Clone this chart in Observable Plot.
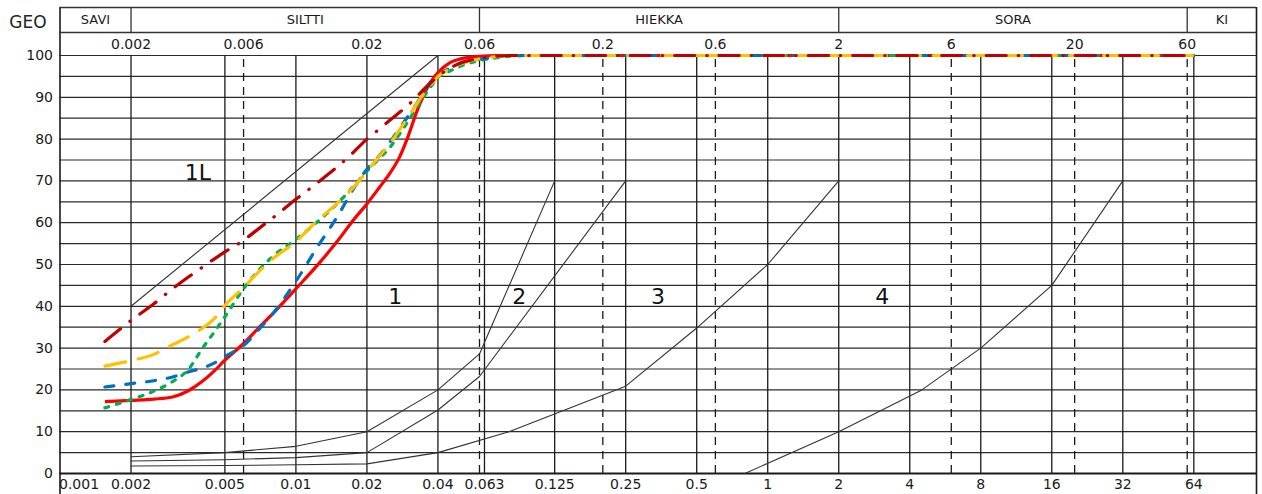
<!DOCTYPE html>
<html>
<head>
<meta charset="utf-8">
<script src="https://cdn.jsdelivr.net/npm/d3@7"></script>
<script src="https://cdn.jsdelivr.net/npm/@observablehq/plot@0.6"></script>
<style>
  html, body { margin: 0; padding: 0; background: #fff; }
  #chart svg { display: block; overflow: visible; }
</style>
</head>
<body>
<div id="chart"></div>
<script>
// ---------------- data ----------------
const xMin = 0.001, xMax = 118;
const yTicks = [0, 10, 20, 30, 40, 50, 60, 70, 80, 90, 100];
const gridY = [0, 5, 10, 15, 20, 25, 30, 35, 40, 45, 50, 55, 60, 65, 70, 75, 80, 85, 90, 95, 100];
const solidX = [0.002, 0.005, 0.01, 0.02, 0.04, 0.063, 0.125, 0.25, 0.5, 1, 2, 4, 8, 16, 32, 64];
const dashedX = [0.006, 0.06, 0.2, 0.6, 6, 20, 60];
const bottomLabels = ["0.001", "0.002", "0.005", "0.01", "0.02", "0.04", "0.063", "0.125", "0.25", "0.5", "1", "2", "4", "8", "16", "32", "64"];
const topLabels = ["0.002", "0.006", "0.02", "0.06", "0.2", "0.6", "2", "6", "20", "60"];
const bands = ["SAVI", "SILTTI", "HIEKKA", "SORA", "KI"];
const bandEdges = [0.001, 0.002, 0.06, 2, 60, 118];

// zone boundary lines (size mm, passing %)
const line1L_x = [0.002, 0.04];
const line1L_y = [40, 100];
const lineA_x = [0.002, 0.005, 0.01, 0.02, 0.04, 0.06, 0.125];
const lineA_y = [4, 5, 6.5, 10, 20, 28.6, 70];
const lineB_x = [0.002, 0.005, 0.01, 0.02, 0.04, 0.06, 0.25];
const lineB_y = [3, 3.3, 3.8, 5, 15.2, 23.2, 70];
const lineC_x = [0.002, 0.005, 0.01, 0.02, 0.04, 0.08, 0.25, 0.5, 1, 2];
const lineC_y = [1.8, 1.9, 2.1, 2.3, 5, 10, 20.9, 34.8, 50, 70];
const lineD_x = [0.8, 2, 4.5, 8, 16, 32];
const lineD_y = [0, 10, 20, 30, 45, 70];

const zoneNames = ["1L", "1", "2", "3", "4"];
const zoneAtSize = [0.00384, 0.0264, 0.0884, 0.343, 3.06];
const zoneAtPct = [72, 42.2, 42.2, 42.2, 42.2];

// grading curves
const sizes = [0.00155, 0.002, 0.0025, 0.003, 0.0035, 0.004, 0.0045, 0.005, 0.006, 0.007, 0.008, 0.01, 0.0125, 0.015, 0.0175, 0.02, 0.0225, 0.025, 0.0275, 0.03, 0.0325, 0.035, 0.0375, 0.04, 0.045, 0.05, 0.06, 0.07, 0.08, 0.1, 64];
const redPct    = [17.2, 17.5, 17.8, 18.3, 19.8, 22.0, 24.5, 27.1, 31.1, 35.0, 38.3, 44.2, 50.2, 55.6, 60.6, 64.5, 68.3, 71.8, 75.7, 80.9, 86.5, 90.8, 93.9, 95.9, 98.3, 99.2, 99.8, 100, 100, 100, 100];
const bluePct   = [20.7, 21.5, 22.2, 23.1, 24.3, 25.2, 26.4, 28.0, 30.6, 34.6, 38.3, 46.0, 54.7, 61.5, 68.0, 72.8, 75.9, 79.2, 82.6, 85.6, 88.5, 91.4, 93.9, 95.3, 97.0, 98.2, 99.1, 99.6, 100, 100, 100];
const yellowPct = [25.7, 27.0, 28.5, 30.8, 32.7, 34.7, 37.0, 40.2, 44.5, 48.4, 51.4, 55.5, 60.8, 64.7, 68.4, 72.3, 75.8, 78.9, 82.2, 85.4, 88.4, 91.0, 93.1, 95.0, 96.8, 98.0, 99.2, 99.7, 100, 100, 100];
const greenPct  = [15.7, 17.7, 19.7, 22.0, 24.9, 29.8, 33.8, 37.5, 44.2, 48.8, 52.0, 56.0, 60.5, 64.6, 68.6, 72.3, 75.3, 78.0, 81.2, 84.4, 87.6, 90.3, 92.7, 94.8, 96.3, 97.5, 98.8, 99.4, 99.8, 100, 100];
const darkPct   = [31.6, 36.6, 40.6, 44.2, 47.0, 49.3, 51.3, 53.0, 55.8, 58.7, 61.2, 65.6, 69.8, 73.4, 76.8, 80.0, 82.3, 84.5, 86.4, 88.2, 90.1, 92.0, 93.6, 95.0, 97.0, 98.2, 99.3, 99.8, 100, 100, 100];

// ---------------- layout ----------------
const W = 1262, H = 494;
const mTop = 55, mBottom = 21, mLeft = 59.5, mRight = 6;
const plotH = H - mTop - mBottom;
const pxToPct = px => (H - mBottom - px) / plotH * 100;
const yHeadTop = pxToPct(7), yHeadMid = pxToPct(32), yFrameBottom = pxToPct(494);
const yRow1Text = pxToPct(19.5), yRow2Text = pxToPct(44), yBottomText = pxToPct(484);

const pts = (xs, ys) => xs.map((x, i) => ({x, y: ys[i]}));
const ink = "#1a1a1a";
const font = "DejaVu Sans";

const curveStyle = [
  {y: redPct, stroke: "#ff0000", dash: null},
  {y: greenPct, stroke: "#00b050", dash: "4,8"},
  {y: bluePct, stroke: "#0070c0", dash: "9,12"},
  {y: yellowPct, stroke: "#ffc000", dash: "21,13"},
  {y: darkPct, stroke: "#c00000", dash: "20,12,0.5,12"}
];

const marks = [
  // grid
  Plot.ruleY(gridY, {x1: xMin, x2: xMax, y: d => d, stroke: "#2a2a2a", strokeWidth: 1.2}),
  Plot.ruleX(solidX, {x: d => d, y1: 0, y2: 100, stroke: ink, strokeWidth: 1.3}),
  Plot.ruleX(dashedX, {x: d => d, y1: 0, y2: 100, stroke: ink, strokeWidth: 1.3, strokeDasharray: "8,6"}),
  Plot.ruleY([0], {x1: xMin, x2: xMax, y: d => d, stroke: ink, strokeWidth: 1.8}),
  // frame & header
  Plot.ruleX([xMin, xMax], {x: d => d, y1: yFrameBottom, y2: yHeadTop, stroke: ink, strokeWidth: 1.6}),
  Plot.ruleY([yHeadTop, yHeadMid], {x1: xMin, x2: xMax, y: d => d, stroke: "#333", strokeWidth: 1.3}),
  Plot.ruleX(bandEdges.slice(1, -1), {x: d => d, y1: yHeadMid, y2: yHeadTop, stroke: "#333", strokeWidth: 1.3}),
  Plot.text(bands, {x: (d, i) => Math.sqrt(bandEdges[i] * bandEdges[i + 1]), y: yRow1Text, text: d => d, fontSize: 13, fill: ink, lineAnchor: "middle"}),
  Plot.text(topLabels, {x: d => +d, y: yRow2Text, text: d => d, fontSize: 14, fill: ink, lineAnchor: "middle"}),
  Plot.text(["GEO"], {frameAnchor: "top-left", dx: -32, dy: -33, text: d => d, fontSize: 17, fill: "#222", lineAnchor: "middle", textAnchor: "middle"}),
  // axis labels
  Plot.text(yTicks, {x: xMin, y: d => d, text: d => String(d), dx: -7, textAnchor: "end", lineAnchor: "middle", fontSize: 14, fill: ink}),
  Plot.text(bottomLabels.slice(1), {x: d => +d, y: yBottomText, text: d => d, fontSize: 14, fill: ink, lineAnchor: "middle"}),
  Plot.text(bottomLabels.slice(0, 1), {x: d => +d, y: yBottomText, text: d => d, fontSize: 14, fill: ink, lineAnchor: "middle", textAnchor: "start", dx: -1}),
  // zone lines
  ...[[line1L_x, line1L_y], [lineA_x, lineA_y], [lineB_x, lineB_y], [lineC_x, lineC_y], [lineD_x, lineD_y]].map(([xs, ys]) =>
    Plot.line(pts(xs, ys), {x: "x", y: "y", stroke: "#333", strokeWidth: 1.1})),
  Plot.text(zoneNames, {x: (d, i) => zoneAtSize[i], y: (d, i) => zoneAtPct[i], text: d => d, fontSize: 22, fill: "#111", lineAnchor: "middle"}),
  // grading curves
  ...curveStyle.map(c => Plot.line(pts(sizes, c.y), {
    x: "x", y: "y", stroke: c.stroke, strokeWidth: 3.2, curve: "monotone-x",
    strokeLinecap: c.dash ? "round" : "butt",
    ...(c.dash ? {strokeDasharray: c.dash} : {})
  }))
];

const chart = Plot.plot({
  width: W, height: H,
  marginTop: mTop, marginBottom: mBottom, marginLeft: mLeft, marginRight: mRight,
  x: {type: "log", domain: [xMin, xMax], axis: null},
  y: {domain: [0, 100], axis: null},
  style: {fontFamily: font, fontSize: "14px", background: "#fff", overflow: "visible"},
  marks
});
document.getElementById("chart").appendChild(chart);
</script>
</body>
</html>
